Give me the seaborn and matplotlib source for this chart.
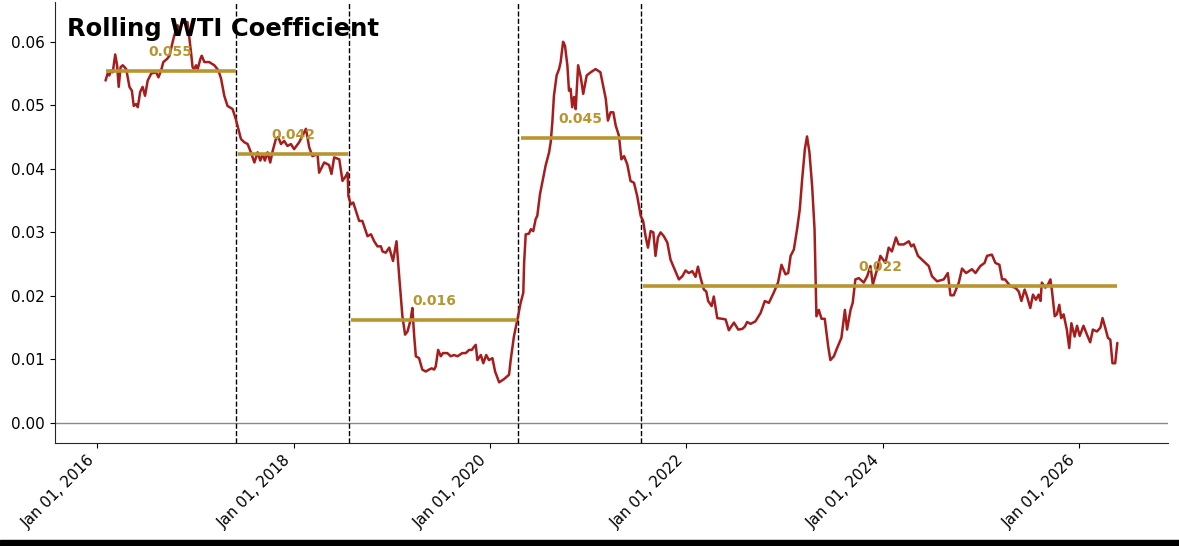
import pandas as pd
import matplotlib.pyplot as plt
import matplotlib.dates as mdates
from matplotlib.patches import Rectangle
import seaborn as sns

LINE_COLOR = '#a51d1d'
LEVEL_COLOR = '#b8952f'
TITLE = 'Rolling WTI Coefficient'

# rolling coefficient
DATES = [
    '2016-01-31', '2016-02-08', '2016-02-14', '2016-02-21', '2016-02-27', '2016-03-07', '2016-03-14', '2016-03-20',
    '2016-03-27', '2016-04-04', '2016-04-17', '2016-04-29', '2016-05-08', '2016-05-15', '2016-05-24', '2016-05-30',
    '2016-06-08', '2016-06-17', '2016-06-26', '2016-07-06', '2016-07-19', '2016-08-06', '2016-08-15', '2016-08-25',
    '2016-09-02', '2016-09-16', '2016-09-25', '2016-10-07', '2016-10-13', '2016-10-25', '2016-11-01', '2016-11-12',
    '2016-12-01', '2016-12-14', '2016-12-20', '2016-12-26',
    '2017-01-02', '2017-01-08', '2017-01-18', '2017-01-23', '2017-02-02', '2017-02-20', '2017-03-11', '2017-03-26',
    '2017-04-05', '2017-04-17', '2017-04-29', '2017-05-18', '2017-05-30', '2017-06-08', '2017-06-18', '2017-06-30',
    '2017-07-13', '2017-07-25', '2017-08-07', '2017-08-19', '2017-08-29', '2017-09-07', '2017-09-15', '2017-09-25',
    '2017-10-05', '2017-10-14', '2017-10-26', '2017-11-04', '2017-11-14', '2017-11-26', '2017-12-08', '2017-12-21',
    '2018-01-02', '2018-01-21', '2018-02-02', '2018-02-15', '2018-02-27', '2018-03-11', '2018-03-30', '2018-04-05',
    '2018-04-24', '2018-05-12', '2018-05-21', '2018-05-31', '2018-06-19', '2018-07-01', '2018-07-14', '2018-07-20',
    '2018-07-23', '2018-08-01', '2018-08-10', '2018-08-20', '2018-09-01', '2018-09-13', '2018-10-02', '2018-10-15',
    '2018-10-27', '2018-11-08', '2018-11-21', '2018-11-27', '2018-12-09', '2018-12-22',
    '2019-01-05', '2019-01-18', '2019-01-28', '2019-02-09', '2019-02-19', '2019-02-28', '2019-03-12', '2019-03-18',
    '2019-03-25', '2019-03-31', '2019-04-12', '2019-04-24', '2019-05-07', '2019-05-19', '2019-05-29', '2019-06-07',
    '2019-06-13', '2019-06-22', '2019-07-02', '2019-07-10', '2019-07-26', '2019-08-08', '2019-08-20', '2019-09-02',
    '2019-09-20', '2019-10-03', '2019-10-15', '2019-10-25', '2019-11-03', '2019-11-09', '2019-11-15', '2019-11-28',
    '2019-12-07', '2019-12-18', '2019-12-28',
    '2020-01-10', '2020-01-20', '2020-02-04', '2020-02-22', '2020-03-12', '2020-03-18', '2020-03-30', '2020-04-12',
    '2020-04-24', '2020-05-04', '2020-05-07', '2020-05-13', '2020-05-25', '2020-06-01', '2020-06-10', '2020-06-19',
    '2020-06-25', '2020-07-05', '2020-07-17', '2020-07-26', '2020-08-08', '2020-08-14', '2020-08-20', '2020-08-26',
    '2020-09-05', '2020-09-14', '2020-09-20', '2020-09-29', '2020-10-06', '2020-10-15', '2020-10-21', '2020-10-27',
    '2020-11-02', '2020-11-09', '2020-11-15', '2020-11-24', '2020-12-04', '2020-12-13', '2020-12-26',
    '2021-01-10', '2021-01-28', '2021-02-15', '2021-03-07', '2021-03-15', '2021-03-25', '2021-04-04', '2021-04-13',
    '2021-04-25', '2021-05-04', '2021-05-14', '2021-05-26', '2021-06-07', '2021-06-20', '2021-07-02', '2021-07-15',
    '2021-07-24', '2021-08-02', '2021-08-11', '2021-08-21', '2021-08-31', '2021-09-08', '2021-09-17', '2021-09-27',
    '2021-10-09', '2021-10-22', '2021-11-03', '2021-11-16', '2021-12-04', '2021-12-17', '2021-12-29',
    '2022-01-10', '2022-01-23', '2022-02-04', '2022-02-13', '2022-02-23', '2022-03-07', '2022-03-16', '2022-03-23',
    '2022-04-05', '2022-04-13', '2022-04-26', '2022-05-14', '2022-05-27', '2022-06-08', '2022-06-27', '2022-07-13',
    '2022-07-28', '2022-08-07', '2022-08-15', '2022-08-28', '2022-09-15', '2022-10-04', '2022-10-20', '2022-11-04',
    '2022-11-22', '2022-12-08', '2022-12-21',
    '2023-01-05', '2023-01-15', '2023-01-24', '2023-02-05', '2023-02-17', '2023-02-27', '2023-03-08', '2023-03-18',
    '2023-03-26', '2023-04-04', '2023-04-14', '2023-04-23', '2023-04-30', '2023-05-09', '2023-05-19', '2023-05-31',
    '2023-06-13', '2023-06-21', '2023-07-04', '2023-07-16', '2023-08-01', '2023-08-14', '2023-08-22', '2023-09-04',
    '2023-09-12', '2023-09-22', '2023-10-05', '2023-10-23', '2023-11-05', '2023-11-17', '2023-11-26', '2023-12-12',
    '2023-12-24',
    '2024-01-12', '2024-01-24', '2024-02-05', '2024-02-20', '2024-03-01', '2024-03-20', '2024-04-08', '2024-04-17',
    '2024-04-26', '2024-05-12', '2024-05-27', '2024-06-21', '2024-07-03', '2024-07-22', '2024-08-16', '2024-08-31',
    '2024-09-10', '2024-09-22', '2024-10-11', '2024-10-23', '2024-11-07', '2024-11-29', '2024-12-12', '2024-12-30',
    '2025-01-15', '2025-01-24', '2025-02-11', '2025-02-24', '2025-03-11', '2025-03-21', '2025-04-01', '2025-04-21',
    '2025-05-09', '2025-05-22', '2025-06-01', '2025-06-13', '2025-06-22', '2025-07-04', '2025-07-14', '2025-07-25',
    '2025-08-04', '2025-08-11', '2025-08-16', '2025-08-29', '2025-09-08', '2025-09-17', '2025-09-23', '2025-10-03',
    '2025-10-11', '2025-10-20', '2025-10-27', '2025-11-05', '2025-11-17', '2025-11-26', '2025-12-04', '2025-12-16',
    '2025-12-25',
    '2026-01-04', '2026-01-18', '2026-01-31', '2026-02-12', '2026-02-22', '2026-03-09', '2026-03-22', '2026-03-30',
    '2026-04-09', '2026-04-19', '2026-04-28', '2026-05-06', '2026-05-16', '2026-05-24',
]
VALUES = [
    0.0539, 0.0550, 0.0547, 0.0555, 0.0552, 0.0580, 0.0563, 0.0529,
    0.0560, 0.0563, 0.0557, 0.0529, 0.0523, 0.0499, 0.0502, 0.0497,
    0.0521, 0.0529, 0.0515, 0.0539, 0.0550, 0.0552, 0.0544, 0.0555,
    0.0568, 0.0573, 0.0578, 0.0600, 0.0610, 0.0626, 0.0618, 0.0630,
    0.0631, 0.0584, 0.0560, 0.0557,
    0.0563, 0.0557, 0.0573, 0.0578, 0.0568, 0.0568, 0.0563, 0.0555,
    0.0542, 0.0515, 0.0499, 0.0494, 0.0478, 0.0463, 0.0447, 0.0442,
    0.0439, 0.0426, 0.0410, 0.0426, 0.0413, 0.0423, 0.0413, 0.0426,
    0.0410, 0.0428, 0.0447, 0.0450, 0.0439, 0.0444, 0.0436, 0.0439,
    0.0431, 0.0442, 0.0452, 0.0463, 0.0434, 0.0420, 0.0423, 0.0394,
    0.0410, 0.0406, 0.0392, 0.0418, 0.0415, 0.0381, 0.0389, 0.0394,
    0.0357, 0.0344, 0.0347, 0.0334, 0.0318, 0.0318, 0.0294, 0.0297,
    0.0286, 0.0278, 0.0278, 0.0270, 0.0268, 0.0276,
    0.0255, 0.0286, 0.0231, 0.0168, 0.0139, 0.0144, 0.0163, 0.0181,
    0.0136, 0.0105, 0.0102, 0.0084, 0.0081, 0.0084, 0.0086, 0.0084,
    0.0089, 0.0115, 0.0105, 0.0110, 0.0110, 0.0105, 0.0107, 0.0105,
    0.0110, 0.0110, 0.0115, 0.0115, 0.0120, 0.0123, 0.0099, 0.0107,
    0.0094, 0.0107, 0.0099,
    0.0102, 0.0081, 0.0064, 0.0069, 0.0076, 0.0099, 0.0136, 0.0163,
    0.0189, 0.0205, 0.0252, 0.0297, 0.0298, 0.0305, 0.0302, 0.0321,
    0.0326, 0.0360, 0.0386, 0.0405, 0.0426, 0.0442, 0.0473, 0.0515,
    0.0547, 0.0557, 0.0568, 0.0600, 0.0594, 0.0563, 0.0523, 0.0526,
    0.0497, 0.0513, 0.0494, 0.0563, 0.0544, 0.0518, 0.0547,
    0.0552, 0.0557, 0.0552, 0.0510, 0.0476, 0.0489, 0.0489, 0.0468,
    0.0452, 0.0415, 0.0420, 0.0407, 0.0381, 0.0378, 0.0357, 0.0326,
    0.0318, 0.0294, 0.0276, 0.0302, 0.0300, 0.0263, 0.0292, 0.0300,
    0.0294, 0.0284, 0.0257, 0.0244, 0.0226, 0.0231, 0.0240,
    0.0236, 0.0239, 0.0230, 0.0246, 0.0228, 0.0210, 0.0207, 0.0192,
    0.0184, 0.0199, 0.0165, 0.0164, 0.0163, 0.0146, 0.0158, 0.0147,
    0.0148, 0.0152, 0.0159, 0.0156, 0.0160, 0.0173, 0.0192, 0.0189,
    0.0205, 0.0221, 0.0249,
    0.0234, 0.0236, 0.0263, 0.0273, 0.0305, 0.0336, 0.0384, 0.0431,
    0.0451, 0.0426, 0.0373, 0.0305, 0.0168, 0.0178, 0.0164, 0.0164,
    0.0120, 0.0099, 0.0105, 0.0118, 0.0134, 0.0178, 0.0147, 0.0178,
    0.0189, 0.0226, 0.0228, 0.0221, 0.0231, 0.0247, 0.0218, 0.0242,
    0.0263,
    0.0252, 0.0276, 0.0270, 0.0292, 0.0281, 0.0281, 0.0286, 0.0278,
    0.0281, 0.0263, 0.0257, 0.0247, 0.0231, 0.0223, 0.0226, 0.0236,
    0.0201, 0.0201, 0.0221, 0.0243, 0.0236, 0.0242, 0.0236, 0.0247,
    0.0252, 0.0263, 0.0265, 0.0252, 0.0249, 0.0226, 0.0226, 0.0215,
    0.0213, 0.0207, 0.0192, 0.0210, 0.0199, 0.0181, 0.0202, 0.0194,
    0.0202, 0.0192, 0.0221, 0.0213, 0.0218, 0.0226, 0.0207, 0.0168,
    0.0171, 0.0186, 0.0165, 0.0171, 0.0147, 0.0118, 0.0157, 0.0136,
    0.0153,
    0.0137, 0.0153, 0.0139, 0.0127, 0.0147, 0.0144, 0.0150, 0.0165,
    0.0150, 0.0134, 0.0131, 0.0094, 0.0094, 0.0126,
]

# regime breaks and mean coefficient per regime
BREAKS = ['2017-05-31', '2018-07-24', '2020-04-14', '2021-07-16']
LEVELS = [0.0554, 0.0424, 0.0162, 0.0449, 0.0216]


def main():
    df = pd.DataFrame({'date': pd.to_datetime(DATES), 'coef': VALUES})
    breaks = pd.to_datetime(BREAKS)

    sns.set_style('ticks')
    plt.rcParams['font.family'] = ['DejaVu Sans']
    fig = plt.figure(figsize=(11.79, 5.46), dpi=100)
    ax = fig.add_axes([0.0466, 0.1886, 0.944, 0.8077])

    sns.lineplot(data=df, x='date', y='coef', color=LINE_COLOR,
                 linewidth=1.8, ax=ax, zorder=3)
    ax.axhline(0, color='#8a8a8a', linewidth=1, zorder=1)

    edges = [df['date'].min()] + list(breaks) + [df['date'].max() + pd.Timedelta(days=1)]
    for i, level in enumerate(LEVELS):
        seg = df[(df['date'] >= edges[i]) & (df['date'] < edges[i + 1])]
        x0, x1 = seg['date'].min(), seg['date'].max()
        ax.hlines(level, x0, x1, color=LEVEL_COLOR, linewidth=2.6, zorder=4)
        ax.text(x0 + (x1 - x0) / 2, level + 0.003, f'{level:.3f}',
                color=LEVEL_COLOR, fontsize=10, fontweight='bold',
                ha='center', va='center', zorder=5)
    for b in breaks:
        ax.axvline(b, color='black', linestyle='--', linewidth=1, zorder=2)

    ax.text(0.011, 0.965, TITLE, transform=ax.transAxes, fontsize=17.5,
            fontweight='bold', color='black', ha='left', va='top', zorder=6)

    ax.xaxis.set_major_locator(mdates.YearLocator(2))
    ax.xaxis.set_major_formatter(mdates.DateFormatter('%b %d, %Y'))
    plt.setp(ax.get_xticklabels(), rotation=45, ha='right')
    ax.tick_params(labelsize=11, colors='black')
    ax.set_xlabel('')
    ax.set_ylabel('')
    sns.despine(ax=ax)

    fig.add_artist(Rectangle((0, 0), 1, 6 / 546, transform=fig.transFigure,
                             color='black', zorder=10))
    fig.savefig('out.png', dpi=100)


if __name__ == '__main__':
    main()
